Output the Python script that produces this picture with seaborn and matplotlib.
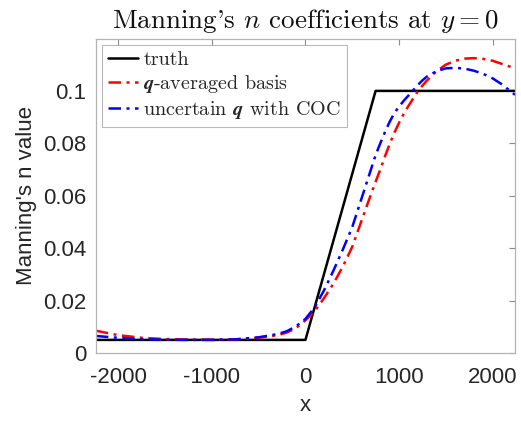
import matplotlib

matplotlib.use("Agg")
import matplotlib.pyplot as plt
import pandas as pd
import seaborn as sns

# values
truth_x = [-2240, 0, 750, 2240]
truth_n = [0.005, 0.005, 0.1, 0.1]

fit_x = [-2240, -2000, -1750, -1500, -1250, -1000, -750, -500, -300, -200, -100,
         0, 100, 200, 300, 400, 500, 550, 600, 650, 700, 750, 800, 850, 900, 950,
         1000, 1050, 1100, 1150, 1200, 1250, 1300, 1400, 1500, 1600, 1700, 1800,
         1900, 2000, 2100, 2240]
avg_n = [0.0085, 0.0068, 0.0058, 0.0053, 0.0051, 0.0051, 0.0052, 0.0058, 0.0068, 0.0078, 0.0095,
         0.0125, 0.0160, 0.0210, 0.0265, 0.0330, 0.0405, 0.0455, 0.0505, 0.0555, 0.0605, 0.0653,
         0.0700, 0.0750, 0.0797, 0.0840, 0.0878, 0.0912, 0.0942, 0.0970, 0.0998, 0.1020, 0.1040,
         0.1075, 0.1100, 0.1115, 0.1123, 0.1125, 0.1122, 0.1115, 0.1103, 0.1086]
coc_n = [0.0065, 0.0058, 0.0053, 0.0051, 0.0050, 0.0050, 0.0052, 0.0060, 0.0072, 0.0083, 0.0102,
         0.0130, 0.0175, 0.0240, 0.0315, 0.0395, 0.0480, 0.0535, 0.0590, 0.0645, 0.0700, 0.0755,
         0.0800, 0.0843, 0.0882, 0.0915, 0.0940, 0.0962, 0.0982, 0.1002, 0.1022, 0.1040, 0.1055,
         0.1075, 0.1086, 0.1088, 0.1085, 0.1077, 0.1065, 0.1048, 0.1025, 0.0985]

x_ticks = [-2000, -1000, 0, 1000, 2000]
y_ticks = [0, 0.02, 0.04, 0.06, 0.08, 0.1]
y_tick_labels = ["0", "0.02", "0.04", "0.06", "0.08", "0.1"]

sns.set_style("white")
plt.rcParams["font.family"] = ["Liberation Sans", "DejaVu Sans"]
plt.rcParams["mathtext.fontset"] = "cm"

truth = pd.DataFrame({"x": truth_x, "n": truth_n})
fits = pd.DataFrame({"x": fit_x, "avg": avg_n, "coc": coc_n})

fig = plt.figure(figsize=(5.21, 4.22), dpi=100)
ax = fig.add_axes([0.184, 0.1635, 0.8045, 0.7441])

dashdot = (0, (5, 2.2, 1.2, 2.2))
sns.lineplot(data=truth, x="x", y="n", ax=ax, color="black", lw=1.8,
             label="truth", sort=False)
sns.lineplot(data=fits, x="x", y="avg", ax=ax, color="#ff0000", lw=1.8,
             linestyle=dashdot, label=r"$\mathbfit{q}$-averaged basis")
sns.lineplot(data=fits, x="x", y="coc", ax=ax, color="#0000ff", lw=1.8,
             linestyle=dashdot, label=r"uncertain $\mathbfit{q}$ with COC")

ax.set_xlim(-2240, 2240)
ax.set_ylim(0, 0.1198)
ax.set_xticks(x_ticks)
ax.set_xticklabels([str(t) for t in x_ticks])
ax.set_yticks(y_ticks)
ax.set_yticklabels(y_tick_labels)
ax.tick_params(direction="in", length=4, width=0.8, color="#8c8c8c",
               labelsize=16, labelcolor="#262626", top=True, right=True)
ax.tick_params(axis="x", pad=10)
ax.tick_params(axis="y", pad=7)
for sp in ax.spines.values():
    sp.set_color("#b3b3b3")
    sp.set_linewidth(0.9)

ax.set_xlabel("x", fontsize=16, color="#262626", labelpad=5)
ax.set_ylabel("Manning's n value", fontsize=16, color="#262626", labelpad=4)
ax.set_title("Manning's $n$ coefficients at $y = 0$", fontfamily="cmr10",
             fontsize=19.5, color="#111111", pad=8)

leg = ax.legend(loc="upper left", frameon=True, fancybox=False,
                prop={"family": "cmr10", "size": 14.5},
                handlelength=1.5, handletextpad=0.25, borderpad=0.3,
                labelspacing=0.2, borderaxespad=0.3)
leg.get_frame().set_edgecolor("#a6a6a6")
leg.get_frame().set_linewidth(0.8)

fig.savefig("out.png", dpi=100)
